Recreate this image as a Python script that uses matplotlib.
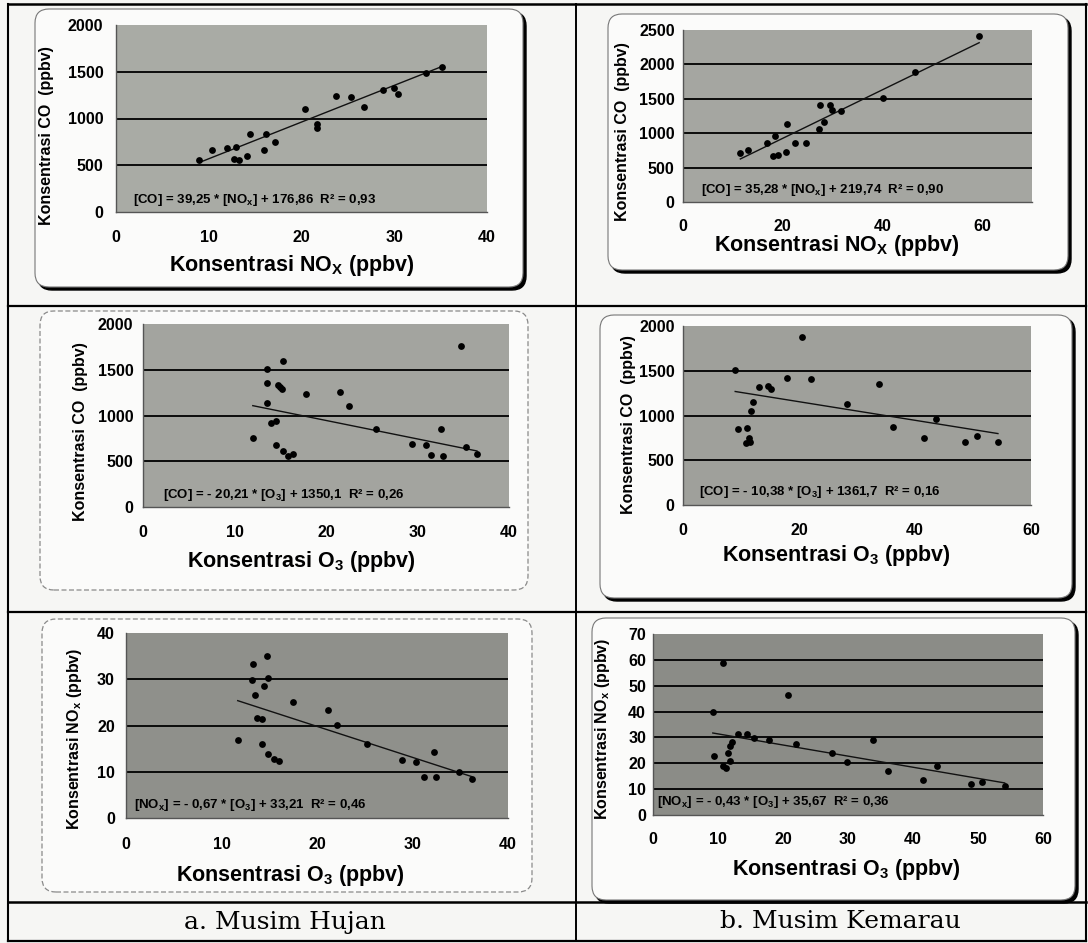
import numpy as np
import matplotlib
matplotlib.use("Agg")
import matplotlib.pyplot as plt
from matplotlib.patches import FancyBboxPatch
from matplotlib.lines import Line2D
from matplotlib.transforms import IdentityTransform

plt.rcParams['font.family'] = ['Liberation Sans', 'DejaVu Sans']
plt.rcParams['font.weight'] = 'bold'
plt.rcParams['mathtext.default'] = 'regular'

# ---------------- data ----------------
# a. Musim Hujan : CO vs NOx
hujan_nox_x = [8.97, 10.3, 12.0, 12.9, 12.7, 13.3, 14.1, 14.5, 16.0, 16.2, 17.1,
               20.4, 21.7, 21.7, 23.7, 25.3, 26.7, 28.8, 30.0, 30.4, 33.4, 35.1]
hujan_nox_co = [556, 668, 682, 693, 567, 556, 600, 838, 668, 838, 747,
                1097, 946, 903, 1242, 1227, 1119, 1307, 1325, 1260, 1487, 1552]
# b. Musim Kemarau : CO vs NOx
kemarau_nox_x = [11.5, 13.1, 16.9, 18.1, 18.5, 19.1, 20.7, 20.9, 22.5, 24.6, 27.2,
                 27.5, 28.3, 29.5, 29.8, 31.6, 40.2, 46.6, 59.4]
kemarau_nox_co = [718, 756, 862, 670, 959, 684, 732, 1132, 853, 862, 1055,
                  1407, 1166, 1407, 1334, 1320, 1517, 1888, 2418]
# a. Musim Hujan : CO vs O3
hujan_o3_x = [12.0, 13.5, 13.5, 13.6, 14.0, 14.5, 14.5, 14.7, 15.0, 15.3, 15.2, 15.3,
              15.8, 16.4, 17.8, 21.5, 22.5, 25.5, 29.4, 30.9, 31.5, 32.6, 32.8, 34.7,
              35.3, 36.5]
hujan_o3_co = [759, 1507, 1352, 1141, 915, 944, 678, 1333, 1307, 1593, 1285, 611,
               556, 574, 1233, 1259, 1100, 852, 685, 678, 567, 852, 556, 1763,
               657, 574]
# b. Musim Kemarau : CO vs O3
kemarau_o3_x = [9.0, 9.4, 11.1, 10.8, 11.4, 11.5, 11.8, 12.0, 13.1, 14.6, 15.2,
                17.9, 20.5, 22.0, 28.2, 33.8, 36.2, 41.5, 43.7, 48.6, 50.7, 54.3]
kemarau_o3_co = [1510, 844, 864, 689, 747, 708, 1051, 1156, 1319, 1331, 1300,
                 1416, 1875, 1409, 1128, 1350, 872, 747, 961, 708, 767, 708]
# a. Musim Hujan : NOx vs O3
hujan_o3n_x = [11.7, 13.3, 13.2, 13.5, 13.7, 14.2, 14.2, 14.4, 14.8, 14.9, 14.9, 15.5,
               16.0, 17.5, 21.2, 22.1, 25.2, 28.9, 30.4, 31.2, 32.2, 32.5, 34.9, 36.2]
hujan_o3n_nox = [16.9, 33.3, 29.8, 26.5, 21.7, 21.5, 16.1, 28.5, 35.0, 30.3, 13.8, 12.7,
                 12.3, 25.0, 23.4, 20.2, 15.9, 12.6, 12.2, 8.8, 14.3, 8.8, 9.9, 8.4]
# b. Musim Kemarau : NOx vs O3
kemarau_o3n_x = [9.2, 9.4, 10.8, 10.8, 11.3, 11.5, 11.9, 11.9, 12.1, 13.1, 14.5, 15.5,
                 17.9, 20.8, 22.0, 27.6, 29.9, 33.8, 36.1, 41.6, 43.7, 48.9, 50.6, 54.1]
kemarau_o3n_nox = [39.9, 22.7, 58.8, 18.8, 18.2, 23.9, 20.7, 26.5, 28.4, 31.4, 31.4, 29.7,
                   29.1, 46.3, 27.5, 23.9, 20.5, 29.1, 16.9, 13.4, 18.8, 11.8, 12.7, 11.1]

# trend lines (slope, intercept) as printed on the charts
trend_slopes = [39.25, 35.28, -20.21, -10.38, -0.67, -0.43]
trend_intercepts = [176.86, 219.74, 1350.1, 1361.7, 33.21, 35.67]

equations = [
    r"[CO] = 39,25 * [NO$_x$] + 176,86  R² = 0,93",
    r"[CO] = 35,28 * [NO$_x$] + 219,74  R² = 0,90",
    r"[CO] = - 20,21 * [O$_3$] + 1350,1  R² = 0,26",
    r"[CO] = - 10,38 * [O$_3$] + 1361,7  R² = 0,16",
    r"[NO$_x$] = - 0,67 * [O$_3$] + 33,21  R² = 0,46",
    r"[NO$_x$] = - 0,43 * [O$_3$] + 35,67  R² = 0,36",
]
xlabels = [r"Konsentrasi NO$_X$ (ppbv)", r"Konsentrasi NO$_X$ (ppbv)",
           r"Konsentrasi O$_3$ (ppbv)", r"Konsentrasi O$_3$ (ppbv)",
           r"Konsentrasi O$_3$ (ppbv)", r"Konsentrasi O$_3$ (ppbv)"]
ylabels = ["Konsentrasi CO  (ppbv)", "Konsentrasi CO  (ppbv)",
           "Konsentrasi CO  (ppbv)", "Konsentrasi CO  (ppbv)",
           r"Konsentrasi NO$_x$ (ppbv)", r"Konsentrasi NO$_x$ (ppbv)"]
xticks = [[0, 10, 20, 30, 40], [0, 20, 40, 60], [0, 10, 20, 30, 40],
          [0, 20, 40, 60], [0, 10, 20, 30, 40], [0, 10, 20, 30, 40, 50, 60]]
xlims = [(0, 40), (0, 70), (0, 40), (0, 60), (0, 40), (0, 60)]
yticks = [[0, 500, 1000, 1500, 2000], [0, 500, 1000, 1500, 2000, 2500],
          [0, 500, 1000, 1500, 2000], [0, 500, 1000, 1500, 2000],
          [0, 10, 20, 30, 40], [0, 10, 20, 30, 40, 50, 60, 70]]
captions = ["a. Musim Hujan", "b. Musim Kemarau"]

series = [(hujan_nox_x, hujan_nox_co), (kemarau_nox_x, kemarau_nox_co),
          (hujan_o3_x, hujan_o3_co), (kemarau_o3_x, kemarau_o3_co),
          (hujan_o3n_x, hujan_o3n_nox), (kemarau_o3n_x, kemarau_o3n_nox)]

# ---------------- layout (pixels) ----------------
W, H = 1088, 943
fig = plt.figure(figsize=(W / 100, H / 100), dpi=100)
fig.patch.set_facecolor('#f6f6f4')


def frac(l, t, r, b):
    return [l / W, 1 - b / H, (r - l) / W, (b - t) / H]


axes_px = [(116, 25, 487, 212), (683, 30, 1032, 202),
           (143, 324, 509, 507), (683, 326, 1031, 505),
           (126, 633, 508, 818), (653, 634, 1043, 815)]
box_px = [(35, 9, 523, 287), (608, 14, 1068, 270),
          (40, 311, 528, 590), (600, 315, 1072, 598),
          (42, 619, 532, 892), (592, 618, 1075, 900)]
box_shadow = [True, True, False, True, False, True]
face = ['#a9aba5', '#a5a6a1', '#a3a49f', '#9fa09b', '#8f908b', '#8b8c87']
xlabel_pos = [(292, 266), (837, 246), (301, 562), (836, 556), (290, 876), (846, 869)]
ylabel_pos = [(47, 136), (623, 132), (81, 432), (629, 425), (75, 739), (603, 729)]
eq_pos = [(133, 200), (701, 190), (163, 495), (699, 492), (134, 805), (657, 802)]
ypads = [9, 6, 7, 6, 8, 5]
xpads = [13, 12, 13, 13, 14, 12]

ident = IdentityTransform()

for i in range(6):
    l, t, r, b = box_px[i]
    if box_shadow[i]:
        sh = FancyBboxPatch((l + 3, H - b - 3), r - l, b - t,
                            boxstyle="round,pad=0,rounding_size=14",
                            transform=ident, facecolor='black', edgecolor='black',
                            linewidth=1.0, zorder=-2)
        fig.add_artist(sh)
        bx = FancyBboxPatch((l, H - b), r - l, b - t,
                            boxstyle="round,pad=0,rounding_size=14",
                            transform=ident, facecolor='#fbfbfa', edgecolor='#777777',
                            linewidth=0.8, zorder=-1)
    else:
        bx = FancyBboxPatch((l, H - b), r - l, b - t,
                            boxstyle="round,pad=0,rounding_size=14",
                            transform=ident, facecolor='#fbfbfa', edgecolor='#8a8a8a',
                            linewidth=0.9, linestyle=(0, (4, 2)), zorder=-1)
    fig.add_artist(bx)

for i in range(6):
    ax = fig.add_axes(frac(*axes_px[i]))
    ax.set_facecolor(face[i])
    xs, ys = series[i]
    ax.scatter(xs, ys, s=24, color='black', zorder=4, linewidths=0)
    xr = np.array([min(xs), max(xs)])
    ax.plot(xr, trend_slopes[i] * xr + trend_intercepts[i], color='#111111',
            lw=1.0, zorder=3)
    ax.set_xlim(*xlims[i])
    ax.set_ylim(yticks[i][0], yticks[i][-1])
    ax.set_xticks(xticks[i])
    ax.set_yticks(yticks[i])
    for v in yticks[i][1:-1]:
        ax.axhline(v, color='black', lw=1.3, zorder=2)
    for s in ['top', 'right']:
        ax.spines[s].set_visible(False)
    for s in ['left', 'bottom']:
        ax.spines[s].set_color('#555555')
        ax.spines[s].set_linewidth(1.0)
    ax.tick_params(axis='both', length=0, labelsize=11.5)
    ax.tick_params(axis='x', pad=xpads[i])
    ax.tick_params(axis='y', pad=ypads[i])
    for lab in ax.get_xticklabels() + ax.get_yticklabels():
        lab.set_fontweight('bold')
    ex, ey = eq_pos[i]
    fig.text(ex / W, 1 - ey / H, equations[i], fontsize=9.5, fontweight='bold',
             ha='left', va='center', color='black')
    xx, xy = xlabel_pos[i]
    fig.text(xx / W, 1 - xy / H, xlabels[i], fontsize=15.5, fontweight='bold',
             ha='center', va='center')
    yx, yy = ylabel_pos[i]
    fig.text(yx / W, 1 - yy / H, ylabels[i], fontsize=11.5, fontweight='bold',
             ha='center', va='center', rotation=90)

# table grid
def hline(y, x0, x1, lw):
    fig.add_artist(Line2D([x0, x1], [H - y, H - y], transform=ident,
                          color='black', lw=lw))


def vline(x, y0, y1, lw):
    fig.add_artist(Line2D([x, x], [H - y0, H - y1], transform=ident,
                          color='black', lw=lw))


hline(4, 8, 1086, 1.8)
hline(306, 8, 1086, 1.6)
hline(612, 8, 1086, 1.6)
hline(902, 8, 1086, 1.8)
hline(941, 8, 1086, 1.6)
vline(8, 4, 941, 1.5)
vline(576, 4, 941, 1.4)
vline(1086, 4, 941, 1.5)

fig.text(285 / W, 1 - 922 / H, captions[0], fontsize=18, family='DejaVu Serif',
         fontweight='normal', ha='center', va='center')
fig.text(840 / W, 1 - 922 / H, captions[1], fontsize=18, family='DejaVu Serif',
         fontweight='normal', ha='center', va='center')

fig.savefig('out.png', dpi=100, facecolor=fig.get_facecolor())
